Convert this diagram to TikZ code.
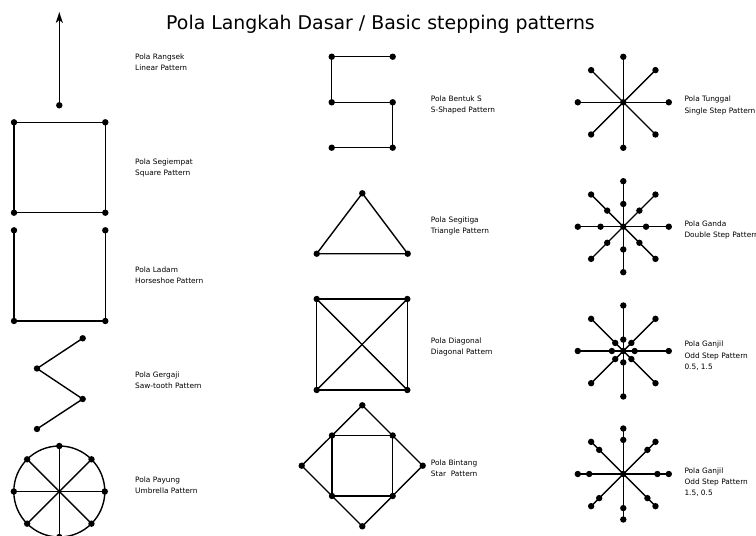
\documentclass[tikz,border=0pt]{standalone}
\usepackage{fontspec}
\setmainfont{DejaVu Sans}
\usetikzlibrary{arrows.meta}
\begin{document}
\begin{tikzpicture}[x=1pt,y=-1pt,
  line/.style={line width=1.4pt,line join=round},
  dot/.style={circle,fill=black,inner sep=0pt,minimum size=6.4pt},
  lbl/.style={anchor=west,align=left,inner sep=0pt,font=\fontsize{7.4}{11.2}\selectfont},
  ttl/.style={anchor=base west,inner sep=0pt,font=\fontsize{18.9}{22}\selectfont}]
\useasboundingbox (0,0) rectangle (756,536);
\node[ttl] (title) at (166,29.3) {Pola Langkah Dasar / Basic stepping patterns};

% Linear
\node[dot] (lin0) at (59.3,105.3) {};
\coordinate (lin1) at (59.3,12);
\draw[line,-{Stealth[length=11pt,width=7pt,inset=3pt]}] (lin0.center) -- (lin1);
\node[lbl] (llin) at (135,62.5) {Pola Rangsek\\Linear Pattern};

% Square
\node[dot] (sq1) at (14,122.3) {};
\node[dot] (sq2) at (105.3,122.3) {};
\node[dot] (sq3) at (105.3,212.7) {};
\node[dot] (sq4) at (14,212.7) {};
\draw[line] (sq1.center) -- (sq2.center) -- (sq3.center) -- (sq4.center) -- cycle;
\node[lbl] (lsq) at (135,168) {Pola Segiempat\\Square Pattern};

% Horseshoe
\node[dot] (hs1) at (14,230.3) {};
\node[dot] (hs2) at (105.3,230.3) {};
\node[dot] (hs3) at (14,321) {};
\node[dot] (hs4) at (105.3,321) {};
\draw[line] (hs1.center) -- (hs3.center) -- (hs4.center) -- (hs2.center);
\node[lbl] (lhs) at (135,275) {Pola Ladam\\Horseshoe Pattern};

% Saw-tooth
\node[dot] (sw1) at (82.7,338.3) {};
\node[dot] (sw2) at (37,368.5) {};
\node[dot] (sw3) at (82.7,399) {};
\node[dot] (sw4) at (37,429) {};
\draw[line] (sw1.center) -- (sw2.center) -- (sw3.center) -- (sw4.center);
\node[lbl] (lsw) at (135,380.3) {Pola Gergaji\\Saw-tooth Pattern};

% Umbrella
\coordinate (um) at (59.3,491.5);
\draw[line] (um) circle[radius=45.5pt];
\foreach \a in {0,45,...,315}{
  \node[dot] (um\a) at ([shift={(\a:45.5)}]um) {};
  \draw[line] (um) -- (um\a.center);
}
\node[lbl] (lum) at (135,485) {Pola Payung\\Umbrella Pattern};

% S-shaped
\node[dot] (s1) at (392.7,56.7) {};
\node[dot] (s2) at (331.7,56.7) {};
\node[dot] (s3) at (331.7,102.3) {};
\node[dot] (s4) at (392.7,102.3) {};
\node[dot] (s5) at (392.7,147.7) {};
\node[dot] (s6) at (331.7,147.7) {};
\draw[line] (s1.center) -- (s2.center) -- (s3.center) -- (s4.center) -- (s5.center) -- (s6.center);
\node[lbl] (ls) at (430.7,105.3) {Pola Bentuk S\\S-Shaped Pattern};

% Triangle
\node[dot] (t1) at (362.3,193.3) {};
\node[dot] (t2) at (316.7,253.7) {};
\node[dot] (t3) at (407.7,253.7) {};
\draw[line] (t1.center) -- (t2.center) -- (t3.center) -- cycle;
\node[lbl] (lt) at (430.7,226.3) {Pola Segitiga\\Triangle Pattern};

% Diagonal
\node[dot] (d1) at (316.7,299) {};
\node[dot] (d2) at (407.3,299) {};
\node[dot] (d3) at (407.3,390) {};
\node[dot] (d4) at (316.7,390) {};
\draw[line] (d1.center) -- (d2.center) -- (d3.center) -- (d4.center) -- cycle;
\draw[line] (d1.center) -- (d3.center);
\draw[line] (d2.center) -- (d4.center);
\node[lbl] (ld) at (430.7,347) {Pola Diagonal\\Diagonal Pattern};

% Star
\node[dot] (stt) at (362.3,405.3) {};
\node[dot] (stl) at (301.7,465.7) {};
\node[dot] (str) at (422.7,465.7) {};
\node[dot] (stb) at (362.3,526.3) {};
\node[dot] (si1) at (332,435.5) {};
\node[dot] (si2) at (392.7,435.5) {};
\node[dot] (si3) at (392.7,496) {};
\node[dot] (si4) at (332,496) {};
\draw[line] (stt.center) -- (str.center) -- (stb.center) -- (stl.center) -- cycle;
\draw[line] (si1.center) -- (si2.center) -- (si3.center) -- (si4.center) -- cycle;
\node[lbl] (lst) at (430.7,468) {Pola Bintang\\Star\ \ Pattern};

% Single step
\node[dot] (a) at (623.3,102.3) {};
\foreach \a in {0,45,...,315}{
  \node[dot] (ao\a) at ([shift={(\a:45.5)}]a.center) {};
  \draw[line] (a.center) -- (ao\a.center);
}
\node[lbl] (la) at (684.3,105.5) {Pola Tunggal\\Single Step Pattern};

% Double step
\node[dot] (b) at (623.3,226.7) {};
\foreach \a in {0,45,...,315}{
  \node[dot] (bo\a) at ([shift={(\a:45.5)}]b.center) {};
  \node[dot] (bi\a) at ([shift={(\a:22.75)}]b.center) {};
  \draw[line] (b.center) -- (bo\a.center);
}
\node[lbl] (lb) at (684.3,229.7) {Pola Ganda\\Double Step Pattern};

% Odd step 0.5, 1.5
\node[dot] (c) at (623.3,351) {};
\foreach \a in {0,45,...,315}{
  \node[dot] (co\a) at ([shift={(\a:45.5)}]c.center) {};
  \node[dot] (ci\a) at ([shift={(\a:11.4)}]c.center) {};
  \draw[line] (c.center) -- (co\a.center);
}
\node[lbl] (lc) at (684.3,355.7) {Pola Ganjil\\Odd Step Pattern\\0.5, 1.5};

% Odd step 1.5, 0.5
\node[dot] (e) at (623.3,474) {};
\foreach \a in {0,45,...,315}{
  \node[dot] (eo\a) at ([shift={(\a:45.5)}]e.center) {};
  \node[dot] (ei\a) at ([shift={(\a:34.1)}]e.center) {};
  \draw[line] (e.center) -- (eo\a.center);
}
\node[lbl] (le) at (684.3,482.3) {Pola Ganjil\\Odd Step Pattern\\1.5, 0.5};
\end{tikzpicture}
\end{document}
